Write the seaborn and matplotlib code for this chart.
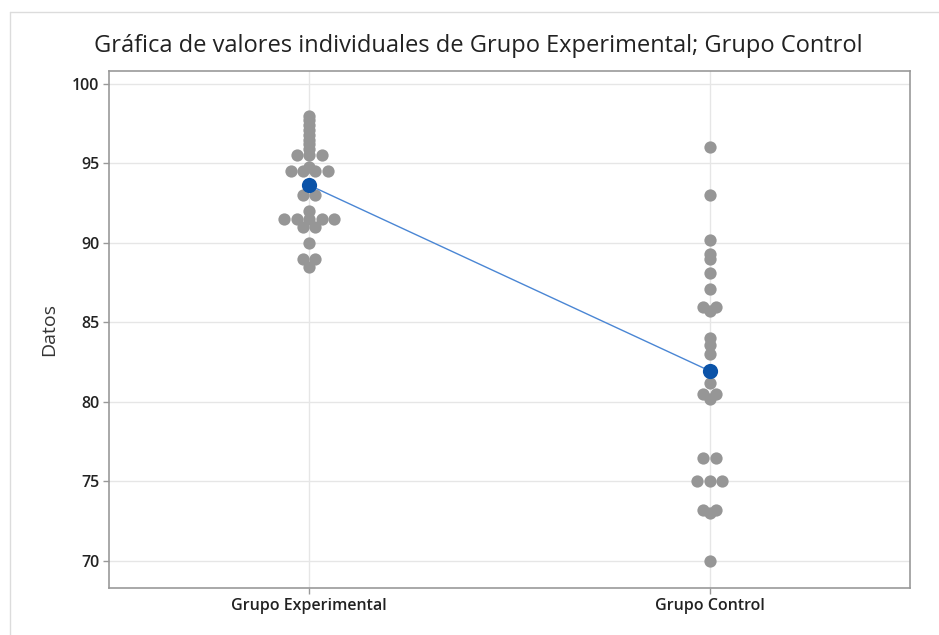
import numpy as np
import pandas as pd
import matplotlib
matplotlib.use("Agg")
import matplotlib.pyplot as plt
import seaborn as sns

# ─────────────────────────────────────────────
# Datos
# ─────────────────────────────────────────────
grupos = ["Grupo Experimental", "Grupo Control"]

grupo_experimental = [
    98.0, 97.7, 97.4, 97.1, 96.8, 96.5, 96.2, 95.9,
    95.5, 95.5, 95.5,
    94.8, 94.5, 94.5, 94.5, 94.5,
    93.0, 93.0, 92.0,
    91.5, 91.5, 91.5, 91.5, 91.5,
    91.0, 91.0, 90.0, 89.0, 89.0, 88.5,
]

grupo_control = [
    96.0, 93.0, 90.2, 89.3, 89.0, 88.1, 87.1,
    86.0, 86.0, 85.7, 84.0, 83.6, 83.0, 81.2,
    80.5, 80.5, 80.2, 76.5, 76.5,
    75.0, 75.0, 75.0, 73.2, 73.2, 73.0, 70.0,
]

y_ticks = [70, 75, 80, 85, 90, 95, 100]

df = pd.DataFrame({
    "grupo": [grupos[0]] * len(grupo_experimental) + [grupos[1]] * len(grupo_control),
    "datos": grupo_experimental + grupo_control,
})

# posición x: valores repetidos se reparten a los lados (estilo Minitab)
paso = 0.031
df["pos"] = df["grupo"].map({g: i for i, g in enumerate(grupos)})
df["rango"] = df.groupby(["grupo", "datos"]).cumcount()
df["n"] = df.groupby(["grupo", "datos"])["datos"].transform("size")
df["x"] = df["pos"] + (df["rango"] - (df["n"] - 1) / 2) * paso

medias = df.groupby("pos")["datos"].mean().reset_index()

# ─────────────────────────────────────────────
# Gráfica
# ─────────────────────────────────────────────
sns.set_theme(style="white")
plt.rcParams["font.family"] = ["Open Sans", "DejaVu Sans"]

fig = plt.figure(figsize=(9.39, 6.35), dpi=100)
ax = fig.add_axes([0.116, 0.074, 0.853, 0.814])

for v in y_ticks:
    ax.axhline(v, color="#e6e6e6", lw=1, zorder=0)
for p in range(len(grupos)):
    ax.axvline(p, color="#e6e6e6", lw=1, zorder=0)

sns.scatterplot(data=df, x="x", y="datos", color="#969696", s=78,
                linewidth=0, ax=ax, zorder=3)
sns.lineplot(data=medias, x="pos", y="datos", color="#4a86d4", lw=1,
             ax=ax, zorder=4)
sns.scatterplot(data=medias, x="pos", y="datos", color="#0b53a8", s=120,
                linewidth=0, ax=ax, zorder=5)

ax.set_xlim(-0.5, 1.5)
ax.set_ylim(68.3, 100.8)
ax.set_xticks(range(len(grupos)))
ax.set_xticklabels(grupos, fontsize=11.5, fontweight="semibold", color="#222222")
ax.set_yticks(y_ticks)
ax.set_yticklabels([str(t) for t in y_ticks], fontsize=11.5, fontweight="semibold",
                   color="#222222")
ax.tick_params(axis="both", length=4, width=1, color="#999999", direction="out",
               bottom=True, left=True, pad=3)
ax.set_xlabel("")
ax.set_ylabel("Datos", fontsize=14, color="#333333", labelpad=10)
for s in ax.spines.values():
    s.set_color("#999999")
    s.set_linewidth(1.2)

fig.text(0.509, 0.928, "Gráfica de valores individuales de Grupo Experimental; Grupo Control",
         ha="center", va="center", fontsize=17, color="#222222")

# borde de la captura
fig.add_artist(plt.Line2D([0.0107, 0.0107], [0, 0.981], transform=fig.transFigure,
                          color="#dcdcdc", lw=1))
fig.add_artist(plt.Line2D([0.0107, 1], [0.981, 0.981], transform=fig.transFigure,
                          color="#dcdcdc", lw=1))

fig.savefig("out.png", dpi=100)
